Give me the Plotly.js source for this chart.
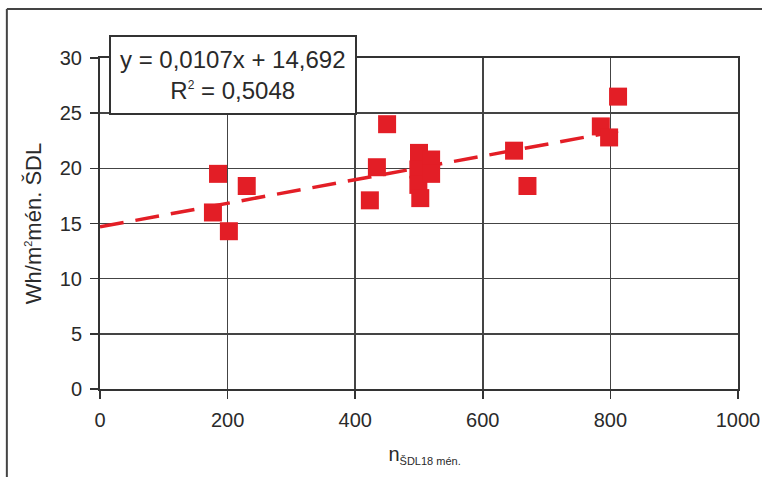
<!DOCTYPE html>
<html>
<head>
<meta charset="utf-8">
<script src="https://cdn.plot.ly/plotly-3.0.1.min.js"></script>
<style>
html,body{margin:0;padding:0;background:#fff;}
#chart{width:762px;height:477px;}
</style>
</head>
<body>
<div id="chart"></div>
<script>
// Data
const nValues = [177, 185, 202, 230, 423, 434, 450, 500, 499, 499, 502, 519, 519, 649, 670, 785, 798, 812];
const whValues = [16.0, 19.5, 14.3, 18.4, 17.1, 20.1, 24.0, 21.4, 19.9, 18.5, 17.3, 20.8, 19.5, 21.6, 18.4, 23.8, 22.8, 26.5];
const trendSlope = [0.0107];
const trendIntercept = [14.692];
const rSquared = ['0,5048'];
const xTicks = [0, 200, 400, 600, 800, 1000];
const yTicks = [0, 5, 10, 15, 20, 25, 30];

const red = '#E31E26';
const fontFam = '"Liberation Sans", Arial, sans-serif';

const xMin = 0;
const xMax = Math.max(...nValues);
const trendX = [xMin, xMax];
const trendY = trendX.map(v => trendSlope[0] * v + trendIntercept[0]);

const traces = [
  {
    x: trendX, y: trendY, mode: 'lines', type: 'scatter',
    line: {color: red, width: 3.5, dash: '24px,12px'},
    hoverinfo: 'skip', showlegend: false
  },
  {
    x: nValues, y: whValues, mode: 'markers', type: 'scatter',
    marker: {symbol: 'square', size: 18, color: red},
    showlegend: false
  }
];

const axisCommon = {
  showline: true, linecolor: '#333', linewidth: 2, mirror: true,
  showgrid: true, gridcolor: '#444', gridwidth: 1.5,
  zeroline: false,
  ticks: 'outside', ticklen: 8, tickcolor: '#333', tickwidth: 1.5,
  tickfont: {family: fontFam, size: 20, color: '#2a2a2a'}
};

const layout = {
  width: 762, height: 477,
  margin: {l: 100, r: 24, t: 58, b: 88},
  paper_bgcolor: '#fff', plot_bgcolor: '#fff',
  font: {family: fontFam, color: '#2a2a2a'},
  xaxis: Object.assign({}, axisCommon, {
    range: [0, 1000], tickvals: xTicks, ticktext: xTicks.map(String),
    ticklabelstandoff: 4,
    title: {text: '&nbsp;&nbsp;n<sub><span style="font-size:11px">ŠDL18 mén.</span></sub>', font: {family: fontFam, size: 20, color: '#2a2a2a'}, standoff: 17}
  }),
  yaxis: Object.assign({}, axisCommon, {
    range: [0, 30], tickvals: yTicks, ticktext: yTicks.map(String),
    ticklabelstandoff: 4,
    title: {text: 'Wh/m<sup><span style="font-size:11px">2</span></sup>mén. ŠDL', font: {family: fontFam, size: 22, color: '#2a2a2a'}, standoff: 12}
  }),
  annotations: [{
    xref: 'paper', yref: 'paper', x: 0.209, y: 0.95,
    xanchor: 'center', yanchor: 'middle', align: 'center',
    text: 'y = ' + trendSlope[0].toString().replace('.', ',') + 'x + ' + trendIntercept[0].toString().replace('.', ',') + '<br>R<sup><span style="font-size:12px">2</span></sup> = ' + rSquared[0],
    font: {family: fontFam, size: 24, color: '#2a2a2a'},
    showarrow: false, bgcolor: '#fff', bordercolor: '#333', borderwidth: 2, borderpad: 9
  }],
  shapes: [
    {type: 'line', xref: 'paper', yref: 'paper', x0: -0.146, x1: -0.146, y0: 1.148, y1: -0.3, line: {color: '#444', width: 2}},
    {type: 'line', xref: 'paper', yref: 'paper', x0: -0.146, x1: 1.1, y0: 1.148, y1: 1.148, line: {color: '#444', width: 2}}
  ]
};

Plotly.newPlot('chart', traces, layout, {displayModeBar: false, staticPlot: true});
</script>
</body>
</html>
